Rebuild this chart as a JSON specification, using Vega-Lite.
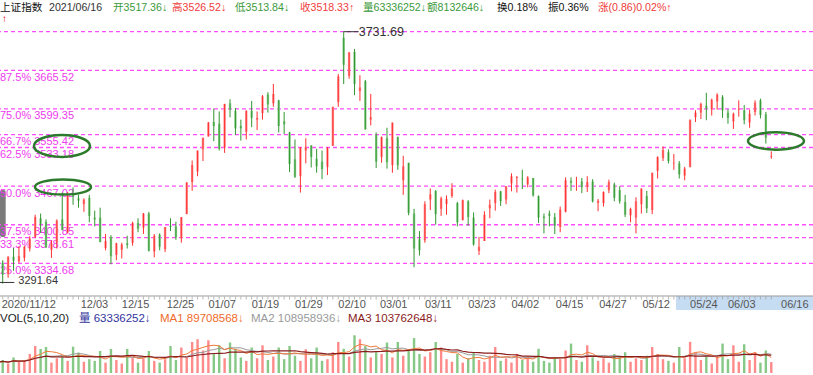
{
"$schema": "https://vega.github.io/schema/vega-lite/v6.json",
"padding": 0,
"background": "white",
"spacing": 0,
"bounds": "flush",
"config": {"view": {"stroke": null}, "font": "Liberation Sans, Noto Sans CJK SC", "concat": {"spacing": 0}, "scale": {"continuousPadding": 0}},
"resolve": {"scale": {"x": "independent", "y": "independent", "color": "independent", "shape": "independent"}},
"datasets": {
"k": [
{"i":0,"d":"11/12","o":3322,"h":3330,"l":3291.64,"c":3312,"v":60000000},
{"i":1,"d":"11/13","o":3336,"h":3340,"l":3300,"c":3315,"v":75000000},
{"i":2,"d":"11/16","o":3316,"h":3347,"l":3310,"c":3346,"v":55000000},
{"i":3,"d":"11/17","o":3346,"h":3361,"l":3322,"c":3339,"v":90000000},
{"i":4,"d":"11/18","o":3338,"h":3364,"l":3335,"c":3347,"v":65000000},
{"i":5,"d":"11/19","o":3344,"h":3365,"l":3338,"c":3363,"v":70000000},
{"i":6,"d":"11/20","o":3360,"h":3381,"l":3355,"c":3377,"v":110000000},
{"i":7,"d":"11/23","o":3380,"h":3418,"l":3378,"c":3414,"v":156000000},
{"i":8,"d":"11/24","o":3412,"h":3420,"l":3387,"c":3402,"v":139000000},
{"i":9,"d":"11/25","o":3406,"h":3410,"l":3361,"c":3362,"v":150000000},
{"i":10,"d":"11/26","o":3358,"h":3374,"l":3344,"c":3369,"v":60000000},
{"i":11,"d":"11/27","o":3370,"h":3410,"l":3360,"c":3408,"v":85000000},
{"i":12,"d":"11/30","o":3410,"h":3456,"l":3391,"c":3392,"v":95000000},
{"i":13,"d":"12/01","o":3388,"h":3457,"l":3386,"c":3451,"v":70000000},
{"i":14,"d":"12/02","o":3453,"h":3465,"l":3435,"c":3449,"v":152000000},
{"i":15,"d":"12/03","o":3446,"h":3452,"l":3430,"c":3442,"v":118000000},
{"i":16,"d":"12/04","o":3436,"h":3446,"l":3423,"c":3444,"v":65000000},
{"i":17,"d":"12/07","o":3447,"h":3452,"l":3405,"c":3416,"v":80000000},
{"i":18,"d":"12/08","o":3413,"h":3425,"l":3398,"c":3410,"v":70000000},
{"i":19,"d":"12/09","o":3413,"h":3430,"l":3371,"c":3371,"v":127000000},
{"i":20,"d":"12/10","o":3361,"h":3385,"l":3357,"c":3373,"v":60000000},
{"i":21,"d":"12/11","o":3380,"h":3383,"l":3333,"c":3347,"v":139000000},
{"i":22,"d":"12/14","o":3349,"h":3370,"l":3340,"c":3369,"v":75000000},
{"i":23,"d":"12/15","o":3358,"h":3370,"l":3343,"c":3367,"v":55000000},
{"i":24,"d":"12/16","o":3369,"h":3382,"l":3360,"c":3366,"v":139000000},
{"i":25,"d":"12/17","o":3370,"h":3406,"l":3365,"c":3404,"v":90000000},
{"i":26,"d":"12/18","o":3404,"h":3412,"l":3388,"c":3394,"v":60000000},
{"i":27,"d":"12/21","o":3396,"h":3421,"l":3385,"c":3420,"v":85000000},
{"i":28,"d":"12/22","o":3420,"h":3423,"l":3355,"c":3356,"v":127000000},
{"i":29,"d":"12/23","o":3355,"h":3385,"l":3345,"c":3382,"v":70000000},
{"i":30,"d":"12/24","o":3384,"h":3386,"l":3357,"c":3363,"v":60000000},
{"i":31,"d":"12/25","o":3359,"h":3397,"l":3354,"c":3397,"v":80000000},
{"i":32,"d":"12/28","o":3399,"h":3412,"l":3390,"c":3397,"v":156000000},
{"i":33,"d":"12/29","o":3398,"h":3406,"l":3375,"c":3379,"v":75000000},
{"i":34,"d":"12/30","o":3378,"h":3414,"l":3370,"c":3414,"v":147000000},
{"i":35,"d":"12/31","o":3419,"h":3474,"l":3419,"c":3473,"v":90000000},
{"i":36,"d":"01/04","o":3474,"h":3511,"l":3459,"c":3503,"v":179000000},
{"i":37,"d":"01/05","o":3492,"h":3528,"l":3484,"c":3528,"v":195000000},
{"i":38,"d":"01/06","o":3530,"h":3550,"l":3510,"c":3550,"v":130000000},
{"i":39,"d":"01/07","o":3552,"h":3577,"l":3552,"c":3576,"v":189000000},
{"i":40,"d":"01/08","o":3577,"h":3600,"l":3544,"c":3570,"v":110000000},
{"i":41,"d":"01/11","o":3574,"h":3595,"l":3528,"c":3531,"v":160000000},
{"i":42,"d":"01/12","o":3533,"h":3608,"l":3524,"c":3608,"v":85000000},
{"i":43,"d":"01/13","o":3609,"h":3616,"l":3585,"c":3598,"v":176000000},
{"i":44,"d":"01/14","o":3596,"h":3601,"l":3555,"c":3566,"v":141000000},
{"i":45,"d":"01/15","o":3570,"h":3581,"l":3545,"c":3566,"v":90000000},
{"i":46,"d":"01/18","o":3560,"h":3597,"l":3547,"c":3596,"v":70000000},
{"i":47,"d":"01/19","o":3596,"h":3613,"l":3568,"c":3584,"v":147000000},
{"i":48,"d":"01/20","o":3581,"h":3595,"l":3563,"c":3584,"v":85000000},
{"i":49,"d":"01/21","o":3592,"h":3623,"l":3581,"c":3621,"v":160000000},
{"i":50,"d":"01/22","o":3624,"h":3628,"l":3593,"c":3607,"v":75000000},
{"i":51,"d":"01/25","o":3609,"h":3642,"l":3603,"c":3625,"v":95000000},
{"i":52,"d":"01/26","o":3614,"h":3615,"l":3559,"c":3570,"v":147000000},
{"i":53,"d":"01/27","o":3578,"h":3594,"l":3556,"c":3573,"v":80000000},
{"i":54,"d":"01/28","o":3559,"h":3560,"l":3491,"c":3505,"v":156000000},
{"i":55,"d":"01/29","o":3513,"h":3547,"l":3481,"c":3483,"v":100000000},
{"i":56,"d":"02/01","o":3484,"h":3534,"l":3456,"c":3533,"v":70000000},
{"i":57,"d":"02/02","o":3528,"h":3549,"l":3506,"c":3534,"v":137000000},
{"i":58,"d":"02/03","o":3537,"h":3537,"l":3499,"c":3517,"v":85000000},
{"i":59,"d":"02/04","o":3514,"h":3531,"l":3490,"c":3501,"v":147000000},
{"i":60,"d":"02/05","o":3509,"h":3528,"l":3479,"c":3496,"v":70000000},
{"i":61,"d":"02/08","o":3500,"h":3534,"l":3486,"c":3532,"v":80000000},
{"i":62,"d":"02/09","o":3536,"h":3603,"l":3536,"c":3603,"v":120000000},
{"i":63,"d":"02/10","o":3611,"h":3659,"l":3603,"c":3655,"v":179000000},
{"i":64,"d":"02/18","o":3721,"h":3731.69,"l":3642,"c":3675,"v":140000000},
{"i":65,"d":"02/19","o":3656,"h":3697,"l":3651,"c":3696,"v":95000000},
{"i":66,"d":"02/22","o":3697,"h":3702,"l":3623,"c":3642,"v":218000000},
{"i":67,"d":"02/23","o":3630,"h":3657,"l":3613,"c":3636,"v":195000000},
{"i":68,"d":"02/24","o":3647,"h":3649,"l":3564,"c":3564,"v":156000000},
{"i":69,"d":"02/25","o":3581,"h":3625,"l":3571,"c":3585,"v":90000000},
{"i":70,"d":"02/26","o":3555,"h":3559,"l":3498,"c":3509,"v":120000000},
{"i":71,"d":"03/01","o":3517,"h":3552,"l":3507,"c":3551,"v":110000000},
{"i":72,"d":"03/02","o":3549,"h":3567,"l":3497,"c":3508,"v":176000000},
{"i":73,"d":"03/03","o":3503,"h":3576,"l":3490,"c":3576,"v":90000000},
{"i":74,"d":"03/04","o":3551,"h":3552,"l":3495,"c":3503,"v":179000000},
{"i":75,"d":"03/05","o":3477,"h":3519,"l":3452,"c":3501,"v":100000000},
{"i":76,"d":"03/08","o":3507,"h":3507,"l":3417,"c":3421,"v":130000000},
{"i":77,"d":"03/09","o":3420,"h":3428,"l":3328,"c":3360,"v":202000000},
{"i":78,"d":"03/10","o":3376,"h":3390,"l":3348,"c":3357,"v":110000000},
{"i":79,"d":"03/11","o":3374,"h":3441,"l":3370,"c":3436,"v":95000000},
{"i":80,"d":"03/12","o":3444,"h":3463,"l":3426,"c":3453,"v":120000000},
{"i":81,"d":"03/15","o":3459,"h":3460,"l":3401,"c":3419,"v":179000000},
{"i":82,"d":"03/16","o":3428,"h":3449,"l":3416,"c":3446,"v":147000000},
{"i":83,"d":"03/17","o":3436,"h":3451,"l":3418,"c":3445,"v":80000000},
{"i":84,"d":"03/18","o":3450,"h":3472,"l":3447,"c":3463,"v":65000000},
{"i":85,"d":"03/19","o":3438,"h":3440,"l":3398,"c":3405,"v":110000000},
{"i":86,"d":"03/22","o":3409,"h":3444,"l":3408,"c":3443,"v":60000000},
{"i":87,"d":"03/23","o":3441,"h":3443,"l":3399,"c":3414,"v":85000000},
{"i":88,"d":"03/24","o":3413,"h":3422,"l":3365,"c":3367,"v":120000000},
{"i":89,"d":"03/25","o":3356,"h":3380,"l":3349,"c":3363,"v":75000000},
{"i":90,"d":"03/26","o":3373,"h":3424,"l":3373,"c":3418,"v":65000000},
{"i":91,"d":"03/29","o":3429,"h":3444,"l":3412,"c":3435,"v":100000000},
{"i":92,"d":"03/30","o":3438,"h":3461,"l":3425,"c":3457,"v":150000000},
{"i":93,"d":"03/31","o":3458,"h":3459,"l":3433,"c":3441,"v":70000000},
{"i":94,"d":"04/01","o":3444,"h":3467,"l":3436,"c":3467,"v":85000000},
{"i":95,"d":"04/02","o":3472,"h":3489,"l":3458,"c":3484,"v":60000000},
{"i":96,"d":"04/06","o":3481,"h":3484,"l":3456,"c":3483,"v":110000000},
{"i":97,"d":"04/07","o":3480,"h":3495,"l":3462,"c":3479,"v":75000000},
{"i":98,"d":"04/08","o":3470,"h":3484,"l":3465,"c":3482,"v":95000000},
{"i":99,"d":"04/09","o":3481,"h":3481,"l":3449,"c":3451,"v":65000000},
{"i":100,"d":"04/12","o":3450,"h":3451,"l":3404,"c":3413,"v":140000000},
{"i":101,"d":"04/13","o":3415,"h":3420,"l":3386,"c":3412,"v":70000000},
{"i":102,"d":"04/14","o":3420,"h":3425,"l":3398,"c":3416,"v":60000000},
{"i":103,"d":"04/15","o":3414,"h":3421,"l":3385,"c":3399,"v":90000000},
{"i":104,"d":"04/16","o":3397,"h":3432,"l":3388,"c":3427,"v":80000000},
{"i":105,"d":"04/19","o":3423,"h":3482,"l":3422,"c":3477,"v":130000000},
{"i":106,"d":"04/20","o":3476,"h":3482,"l":3459,"c":3473,"v":170000000},
{"i":107,"d":"04/21","o":3472,"h":3483,"l":3459,"c":3472,"v":75000000},
{"i":108,"d":"04/22","o":3475,"h":3481,"l":3455,"c":3465,"v":65000000},
{"i":109,"d":"04/23","o":3466,"h":3484,"l":3457,"c":3474,"v":160000000},
{"i":110,"d":"04/26","o":3475,"h":3479,"l":3439,"c":3441,"v":90000000},
{"i":111,"d":"04/27","o":3438,"h":3445,"l":3424,"c":3442,"v":70000000},
{"i":112,"d":"04/28","o":3438,"h":3458,"l":3432,"c":3457,"v":85000000},
{"i":113,"d":"04/29","o":3460,"h":3478,"l":3455,"c":3474,"v":60000000},
{"i":114,"d":"04/30","o":3470,"h":3473,"l":3441,"c":3447,"v":110000000},
{"i":115,"d":"05/06","o":3460,"h":3467,"l":3437,"c":3441,"v":95000000},
{"i":116,"d":"05/07","o":3440,"h":3452,"l":3414,"c":3418,"v":120000000},
{"i":117,"d":"05/10","o":3417,"h":3430,"l":3405,"c":3428,"v":65000000},
{"i":118,"d":"05/11","o":3413,"h":3448,"l":3386,"c":3441,"v":85000000},
{"i":119,"d":"05/12","o":3436,"h":3463,"l":3420,"c":3463,"v":75000000},
{"i":120,"d":"05/13","o":3450,"h":3459,"l":3421,"c":3429,"v":100000000},
{"i":121,"d":"05/14","o":3426,"h":3490,"l":3419,"c":3490,"v":150000000},
{"i":122,"d":"05/17","o":3493,"h":3518,"l":3480,"c":3517,"v":110000000},
{"i":123,"d":"05/18","o":3515,"h":3535,"l":3510,"c":3529,"v":80000000},
{"i":124,"d":"05/19","o":3525,"h":3530,"l":3506,"c":3510,"v":70000000},
{"i":125,"d":"05/20","o":3506,"h":3522,"l":3495,"c":3507,"v":60000000},
{"i":126,"d":"05/21","o":3506,"h":3510,"l":3480,"c":3487,"v":150000000},
{"i":127,"d":"05/24","o":3485,"h":3500,"l":3477,"c":3497,"v":85000000},
{"i":128,"d":"05/25","o":3500,"h":3581,"l":3499,"c":3581,"v":180000000},
{"i":129,"d":"05/26","o":3585,"h":3597,"l":3577,"c":3593,"v":120000000},
{"i":130,"d":"05/27","o":3593,"h":3610,"l":3582,"c":3608,"v":75000000},
{"i":131,"d":"05/28","o":3605,"h":3627,"l":3580,"c":3600,"v":95000000},
{"i":132,"d":"05/31","o":3599,"h":3617,"l":3588,"c":3615,"v":55000000},
{"i":133,"d":"06/01","o":3612,"h":3626,"l":3598,"c":3624,"v":95700000},
{"i":134,"d":"06/02","o":3620,"h":3623,"l":3584,"c":3597,"v":170000000},
{"i":135,"d":"06/03","o":3593,"h":3599,"l":3574,"c":3584,"v":80000000},
{"i":136,"d":"06/04","o":3578,"h":3593,"l":3565,"c":3591,"v":160000000},
{"i":137,"d":"06/07","o":3598,"h":3614,"l":3586,"c":3599,"v":65000000},
{"i":138,"d":"06/08","o":3597,"h":3606,"l":3573,"c":3580,"v":166100000},
{"i":139,"d":"06/09","o":3576,"h":3598,"l":3567,"c":3591,"v":75000000},
{"i":140,"d":"06/10","o":3594,"h":3614,"l":3588,"c":3610,"v":120000000},
{"i":141,"d":"06/11","o":3614,"h":3617,"l":3583,"c":3589,"v":60000000},
{"i":142,"d":"06/15","o":3590,"h":3594,"l":3540,"c":3550,"v":130200000},
{"i":143,"d":"06/16","o":3517.36,"h":3526.52,"l":3513.84,"c":3518.33,"v":63336252}
],
"hdr": [
{"k":0,"t":"上证指数","c":"n"},
{"k":1,"t":"2021/06/16","c":"g"},
{"k":2,"t":"开3517.36↓","c":"dn"},
{"k":3,"t":"高3526.52↓","c":"up"},
{"k":4,"t":"低3513.84↓","c":"dn"},
{"k":5,"t":"收3518.33↑","c":"up"},
{"k":6,"t":"量63336252↓","c":"dn"},
{"k":7,"t":"额8132646↓","c":"dn"},
{"k":8,"t":"换0.18%","c":"n"},
{"k":9,"t":"振0.36%","c":"n"},
{"k":10,"t":"涨(0.86)0.02%↑","c":"up"}
],
"vhdr": [
{"k":0,"t":"VOL(5,10,20)","c":"n"},
{"k":1,"t":"量 63336252↓","c":"b"},
{"k":2,"t":"MA1 89708568↓","c":"o"},
{"k":3,"t":"MA2 108958936↓","c":"gr"},
{"k":4,"t":"MA3 103762648↓","c":"m"}
],
"fib": [
{"t":"","v":3731.69},
{"t":"87.5% 3665.52","v":3665.52},
{"t":"75.0% 3599.35","v":3599.35},
{"t":"66.7% 3555.42","v":3555.42},
{"t":"62.5% 3533.18","v":3533.18},
{"t":"50.0% 3467.02","v":3467.02},
{"t":"37.5% 3400.85","v":3400.85},
{"t":"33.3% 3378.61","v":3378.61},
{"t":"25.0% 3334.68","v":3334.68}
],
"xl": [
{"i":0.81,"t":"2020/11/12"},
{"i":15.4,"t":"12/03"},
{"i":23,"t":"12/15"},
{"i":31.3,"t":"12/25"},
{"i":39,"t":"01/07"},
{"i":47,"t":"01/19"},
{"i":55,"t":"01/29"},
{"i":63,"t":"02/10"},
{"i":70.7,"t":"03/01"},
{"i":79,"t":"03/11"},
{"i":87,"t":"03/23"},
{"i":95,"t":"04/02"},
{"i":103.2,"t":"04/15"},
{"i":111.2,"t":"04/27"},
{"i":119.2,"t":"05/12"},
{"i":128,"t":"05/24"},
{"i":135,"t":"06/03"},
{"i":144.8,"t":"06/16"}
],
"ell": [
{"e":"a","i":11.95,"p":3535.8},
{"e":"b","i":12.14,"p":3465.5},
{"e":"c","i":143.87,"p":3544.4}
]
},
"vconcat": [
{
"width": 813, "height": 15,
"data": {"name": "hdr"},
"layer": [
{"mark": {"type": "text", "align": "left", "baseline": "middle", "fontSize": 10.6},
"encoding": {
"x": {"field": "k", "type": "quantitative", "axis": null, "scale": {"domain": [0,1,2,3,4,5,6,7,8,9,10], "range": [0,49,113,172,235,300,363,427,497,548,598], "nice": false, "zero": false}},
"text": {"field": "t"},
"color": {"field": "c", "type": "nominal", "legend": null, "scale": {"domain": ["n","g","up","dn"], "range": ["#111111","#333333","#f03c3c","#3c9a3c"]}}
}},
{"data": {"values": [{"t": "↑"}]},
"mark": {"type": "text", "align": "left", "baseline": "top", "dy": 6, "fontSize": 10, "fontWeight": "bold", "color": "#e60000"},
"encoding": {"x": {"datum": 0.04, "type": "quantitative", "axis": null}, "text": {"field": "t"}}}
]
},
{
"width": 813, "height": 295,
"layer": [
{"data": {"values": [{"a": 1}]},
"mark": {"type": "rect", "color": "#c6dcf2", "clip": true},
"encoding": {
"x": {"datum": 125.4, "type": "quantitative", "axis": null, "scale": {"domain": [0.499, 150.71], "nice": false, "zero": false, "padding": 0}},
"x2": {"datum": 150.71},
"y": {"datum": 3278.7, "type": "quantitative", "axis": null, "scale": {"domain": [3254.7, 3760.3], "nice": false, "zero": false, "padding": 0}},
"y2": {"datum": 3254.7}
}},
{"data": {"values": [{"a": 1}]},
"mark": {"type": "rect", "color": "#5a5a5a", "cornerRadius": 2, "opacity": 0.8, "clip": true},
"encoding": {
"x": {"datum": 0.499, "type": "quantitative", "axis": null},
"x2": {"datum": 1.55},
"y": {"datum": 3460.4, "type": "quantitative", "axis": null},
"y2": {"datum": 3379.8}
}},
{"data": {"values": [{"a": 1}]},
"mark": {"type": "rule", "color": "#9a9a9a", "strokeWidth": 1, "clip": true},
"encoding": {"y": {"datum": 3278.7, "type": "quantitative", "axis": null}}},
{"data": {"name": "k"},
"mark": {"type": "tick", "orient": "vertical", "size": 3, "thickness": 1, "color": "#9a9a9a", "yOffset": 2, "clip": true},
"encoding": {
"x": {"field": "i", "type": "quantitative", "axis": null},
"y": {"datum": 3278.7, "type": "quantitative", "axis": null}}},
{"data": {"name": "xl"},
"mark": {"type": "text", "align": "left", "baseline": "top", "dy": 3, "fontSize": 11, "color": "#555555", "font": "Liberation Sans"},
"encoding": {
"x": {"field": "i", "type": "quantitative", "axis": null},
"y": {"datum": 3278.7, "type": "quantitative", "axis": null},
"text": {"field": "t"}}},
{"data": {"name": "fib"},
"mark": {"type": "rule", "color": "#ff4dff", "strokeDash": [4, 3], "strokeWidth": 1.3, "clip": true},
"encoding": {"y": {"field": "v", "type": "quantitative", "axis": null}}},
{"data": {"name": "fib"},
"mark": {"type": "text", "align": "left", "baseline": "top", "dy": 1.5, "fontSize": 11, "color": "#ee3bee", "font": "Liberation Sans"},
"encoding": {
"x": {"datum": 0.499, "type": "quantitative", "axis": null},
"y": {"field": "v", "type": "quantitative", "axis": null},
"text": {"field": "t"}}},
{"data": {"name": "k"},
"mark": {"type": "bar", "width": 2.4, "clip": true},
"encoding": {
"x": {"field": "i", "type": "quantitative", "axis": null},
"y": {"field": "o", "type": "quantitative", "axis": null},
"y2": {"field": "c"},
"color": {"condition": {"test": "datum.c >= datum.o", "value": "#ff8f8f"}, "value": "#8fcf8f"}}},
{"data": {"name": "k"},
"mark": {"type": "rule", "strokeWidth": 1, "clip": true},
"encoding": {
"x": {"field": "i", "type": "quantitative", "axis": null},
"y": {"field": "l", "type": "quantitative", "axis": null},
"y2": {"field": "h"},
"color": {"condition": {"test": "datum.c >= datum.o", "value": "#ff2e2e"}, "value": "#2f962f"}}},
{"data": {"name": "k"},
"transform": [{"joinaggregate": [{"op": "max", "field": "h", "as": "mh"}]}, {"filter": "datum.h == datum.mh"}],
"layer": [
{"mark": {"type": "rule", "color": "#333333", "strokeWidth": 1, "x2Offset": 15, "clip": true},
"encoding": {"x": {"field": "i", "type": "quantitative", "axis": null}, "x2": {"field": "i"}, "y": {"field": "h", "type": "quantitative", "axis": null}}},
{"mark": {"type": "text", "align": "left", "baseline": "middle", "dx": 15, "fontSize": 12.5, "color": "#333333", "font": "Liberation Sans"},
"encoding": {"x": {"field": "i", "type": "quantitative", "axis": null}, "y": {"field": "h", "type": "quantitative", "axis": null}, "text": {"field": "h", "type": "quantitative", "format": ".2f"}}}
]},
{"data": {"name": "k"},
"transform": [{"joinaggregate": [{"op": "min", "field": "l", "as": "ml"}]}, {"filter": "datum.l == datum.ml"}],
"layer": [
{"mark": {"type": "rule", "color": "#333333", "strokeWidth": 1, "x2Offset": 17, "yOffset": -6, "y2Offset": -6, "clip": true},
"encoding": {"x": {"field": "i", "type": "quantitative", "axis": null}, "x2": {"field": "i"}, "y": {"field": "l", "type": "quantitative", "axis": null}}},
{"mark": {"type": "text", "align": "left", "baseline": "middle", "dx": 21, "dy": -7, "fontSize": 11, "color": "#333333", "font": "Liberation Sans"},
"encoding": {"x": {"field": "i", "type": "quantitative", "axis": null}, "y": {"field": "l", "type": "quantitative", "axis": null}, "text": {"field": "l", "type": "quantitative", "format": ".2f"}}}
]},
{"data": {"name": "ell"},
"mark": {"type": "point", "filled": false, "size": 3136, "strokeWidth": 2.5, "color": "#2c7a2c", "opacity": 1, "clip": true},
"encoding": {
"x": {"field": "i", "type": "quantitative", "axis": null},
"y": {"field": "p", "type": "quantitative", "axis": null},
"shape": {"field": "e", "type": "nominal", "legend": null, "scale": {"domain": ["a","b","c"], "range": ["M-1,0A1,0.39,0,1,1,1,0A1,0.39,0,1,1,-1,0Z", "M-1,0A1,0.27,0,1,1,1,0A1,0.27,0,1,1,-1,0Z", "M-1,0A1,0.31,0,1,1,1,0A1,0.31,0,1,1,-1,0Z"]}}}}
]
},
{
"width": 813, "height": 18,
"data": {"name": "vhdr"},
"mark": {"type": "text", "align": "left", "baseline": "middle", "fontSize": 11.5},
"encoding": {
"x": {"field": "k", "type": "quantitative", "axis": null, "scale": {"domain": [0,1,2,3,4], "range": [0,79,160,251,348], "nice": false, "zero": false}},
"text": {"field": "t"},
"color": {"field": "c", "type": "nominal", "legend": null, "scale": {"domain": ["n","b","o","gr","m"], "range": ["#222222","#3535a0","#f06a2a","#9a9a9a","#8b1c1c"]}}
}
},
{
"width": 813, "height": 45,
"data": {"name": "k"},
"transform": [
{"window": [{"op": "mean", "field": "v", "as": "m5"}], "frame": [-4, 0], "sort": [{"field": "i"}]},
{"window": [{"op": "mean", "field": "v", "as": "m10"}], "frame": [-9, 0], "sort": [{"field": "i"}]},
{"window": [{"op": "mean", "field": "v", "as": "m20"}], "frame": [-19, 0], "sort": [{"field": "i"}]}
],
"layer": [
{"mark": {"type": "bar", "width": 2.4, "clip": true},
"encoding": {
"x": {"field": "i", "type": "quantitative", "axis": null, "scale": {"domain": [0.499, 150.71], "nice": false, "zero": false, "padding": 0}},
"y": {"field": "v", "type": "quantitative", "axis": null, "scale": {"domain": [0, 260000000], "nice": false, "padding": 0}},
"color": {"condition": {"test": "datum.c >= datum.o", "value": "#ff8a8a"}, "value": "#86c886"}}},
{"mark": {"type": "line", "strokeWidth": 1, "color": "#9a9a9a", "clip": true},
"encoding": {"x": {"field": "i", "type": "quantitative", "axis": null}, "y": {"field": "m10", "type": "quantitative", "axis": null}}},
{"mark": {"type": "line", "strokeWidth": 1, "color": "#f07a3a", "clip": true},
"encoding": {"x": {"field": "i", "type": "quantitative", "axis": null}, "y": {"field": "m5", "type": "quantitative", "axis": null}}},
{"mark": {"type": "line", "strokeWidth": 1.2, "color": "#8b1c1c", "clip": true},
"encoding": {"x": {"field": "i", "type": "quantitative", "axis": null}, "y": {"field": "m20", "type": "quantitative", "axis": null}}}
]
}
]
}
